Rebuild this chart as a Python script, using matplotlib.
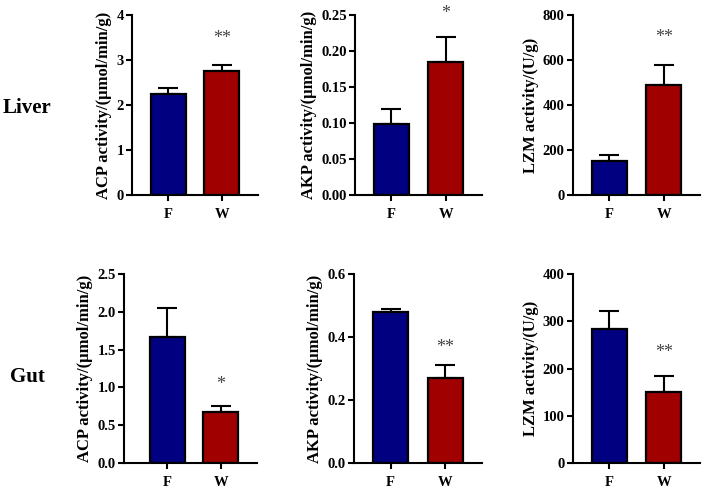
import matplotlib
matplotlib.use('Agg')
import matplotlib.pyplot as plt
from matplotlib.transforms import offset_copy

plt.rcParams['font.family'] = ['Liberation Serif', 'DejaVu Serif']
plt.rcParams['font.weight'] = 'bold'

groups = ['F', 'W']
bar_colors = ['#000080', '#A00000']

# liver
liver_acp = [2.25, 2.75]
liver_acp_err = [0.12, 0.13]
liver_akp = [0.098, 0.185]
liver_akp_err = [0.022, 0.035]
liver_lzm = [150, 490]
liver_lzm_err = [28, 90]

# gut
gut_acp = [1.67, 0.68]
gut_acp_err = [0.38, 0.08]
gut_akp = [0.478, 0.27]
gut_akp_err = [0.012, 0.04]
gut_lzm = [283, 150]
gut_lzm_err = [38, 35]

ylabels = ['ACP activity/(\u03bcmol/min/g)', 'AKP activity/(\u03bcmol/min/g)', 'LZM activity/(U/g)']
stars = [['**', '*', '**'], ['*', '**', '**']]
star_y = [[3.56, 0.258, 720], [1.10, 0.38, 243]]
ylims = [[4, 0.25, 800], [2.5, 0.6, 400]]
yticks = [[[0, 1, 2, 3, 4], [0, 0.05, 0.10, 0.15, 0.20, 0.25], [0, 200, 400, 600, 800]],
          [[0, 0.5, 1.0, 1.5, 2.0, 2.5], [0, 0.2, 0.4, 0.6], [0, 100, 200, 300, 400]]]
tickfmt = [['%d', '%.2f', '%d'], ['%.1f', '%.1f', '%d']]

data = [[(liver_acp, liver_acp_err), (liver_akp, liver_akp_err), (liver_lzm, liver_lzm_err)],
        [(gut_acp, gut_acp_err), (gut_akp, gut_akp_err), (gut_lzm, gut_lzm_err)]]

W, H = 702, 488
fig = plt.figure(figsize=(W / 100, H / 100), dpi=100)

# axes boxes in pixels: left, top, right, bottom
boxes = [[(132, 15, 258, 195), (355, 15, 482, 195), (573, 15, 700, 195)],
         [(124, 274, 257, 463), (354, 274, 482, 463), (573, 274, 700, 463)]]
xleft = [[-0.67, -0.67, -0.67], [-0.8, -0.67, -0.67]]

for r in range(2):
    for c in range(3):
        l, t, rr, b = boxes[r][c]
        ax = fig.add_axes([l / W, 1 - b / H, (rr - l) / W, (b - t) / H])
        vals, errs = data[r][c]
        x = range(len(groups))
        ax.errorbar(x, vals, yerr=[[0, 0], errs], fmt='none', ecolor='black',
                    elinewidth=1.5, capsize=7, capthick=1.5, zorder=1)
        ax.bar(x, vals, width=0.65, color=bar_colors, edgecolor='black',
               linewidth=1.6, zorder=2)
        # asterisk glyph sits high in the em box, nudge it down a bit
        star_tr = offset_copy(ax.transData, fig=fig, y=-3, units='points')
        ax.text(1, star_y[r][c], stars[r][c], ha='center', va='center', transform=star_tr,
                fontsize=13, fontweight='normal', color='#444444', clip_on=False)
        ax.set_xlim(xleft[r][c], 1.67)
        ax.set_ylim(0, ylims[r][c])
        ax.set_yticks(yticks[r][c])
        ax.set_yticklabels([tickfmt[r][c] % v for v in yticks[r][c]])
        ax.set_xticks(list(x))
        ax.set_xticklabels(groups)
        ax.set_ylabel(ylabels[c], fontsize=12, fontweight='bold', labelpad=3)
        for s in ['top', 'right']:
            ax.spines[s].set_visible(False)
        for s in ['left', 'bottom']:
            ax.spines[s].set_linewidth(1.5)
        ax.tick_params(width=1.5, length=4, labelsize=10.5, pad=2)
        ax.tick_params(axis='x', pad=5)

fig.text(27 / W, 1 - 108 / H, 'Liver', ha='center', va='center', fontsize=15, fontweight='bold')
fig.text(27 / W, 1 - 377 / H, 'Gut', ha='center', va='center', fontsize=15, fontweight='bold')

fig.savefig('out.png', dpi=100)
